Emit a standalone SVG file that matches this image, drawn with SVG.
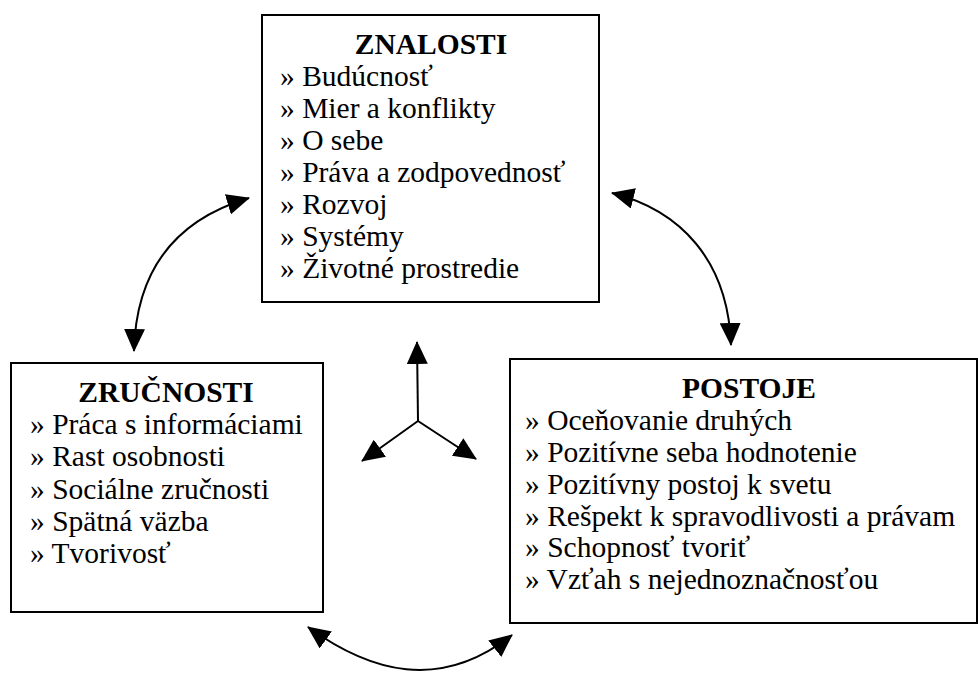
<svg xmlns="http://www.w3.org/2000/svg" width="978" height="675" viewBox="0 0 978 675">
<style>
.box{fill:#fff;stroke:#000;stroke-width:2}
.t{font-family:'Liberation Serif','Times New Roman',serif;font-size:29.5px;fill:#000}
.h{font-weight:bold;text-anchor:middle}
.c{fill:none;stroke:#000;stroke-width:2}
</style>
<defs>
<marker id="ah" markerUnits="userSpaceOnUse" markerWidth="23" markerHeight="21" refX="22" refY="10.5" orient="auto-start-reverse" viewBox="0 0 23 21">
<path d="M0,0 L23,10.5 L0,21 Z" fill="#000"/>
</marker>
</defs>
<rect width="978" height="675" fill="#fff"/>
<g id="znalosti" class="t">
<rect class="box" x="262" y="15" width="337" height="287"/>
<text class="h" x="431" y="54">ZNALOSTI</text>
<text x="280" y="86">» Budúcnosť</text>
<text x="280" y="118">» Mier a konflikty</text>
<text x="280" y="150">» O sebe</text>
<text x="280" y="182">» Práva a zodpovednosť</text>
<text x="280" y="214">» Rozvoj</text>
<text x="280" y="246">» Systémy</text>
<text x="280" y="278">» Životné prostredie</text>
</g>
<g id="zrucnosti" class="t">
<rect class="box" x="11" y="363" width="312" height="249"/>
<text class="h" x="166" y="402">ZRUČNOSTI</text>
<text x="30" y="434">» Práca s informáciami</text>
<text x="30" y="466">» Rast osobnosti</text>
<text x="30" y="499">» Sociálne zručnosti</text>
<text x="30" y="531">» Spätná väzba</text>
<text x="30" y="563">» Tvorivosť</text>
</g>
<g id="postoje" class="t">
<rect class="box" x="510" y="359" width="467" height="264"/>
<text class="h" x="749" y="398">POSTOJE</text>
<text x="525" y="430">» Oceňovanie druhých</text>
<text x="525" y="462">» Pozitívne seba hodnotenie</text>
<text x="525" y="494">» Pozitívny postoj k svetu</text>
<text x="525" y="526">» Rešpekt k spravodlivosti a právam</text>
<text x="525" y="557">» Schopnosť tvoriť</text>
<text x="525" y="589">» Vzťah s nejednoznačnosťou</text>
</g>
<g id="connectors">
<path class="c" d="M134,351 C136,270 175,220 249,198" marker-start="url(#ah)" marker-end="url(#ah)"/>
<path class="c" d="M612,193 C680,210 728,260 731,345" marker-start="url(#ah)" marker-end="url(#ah)"/>
<path class="c" d="M308,627 C370,672 440,692 512,635" marker-start="url(#ah)" marker-end="url(#ah)"/>
<path class="c" d="M418,421 L417,342" marker-end="url(#ah)"/>
<path class="c" d="M418,421 L362,461" marker-end="url(#ah)"/>
<path class="c" d="M418,421 L476,459" marker-end="url(#ah)"/>
</g>
</svg>
